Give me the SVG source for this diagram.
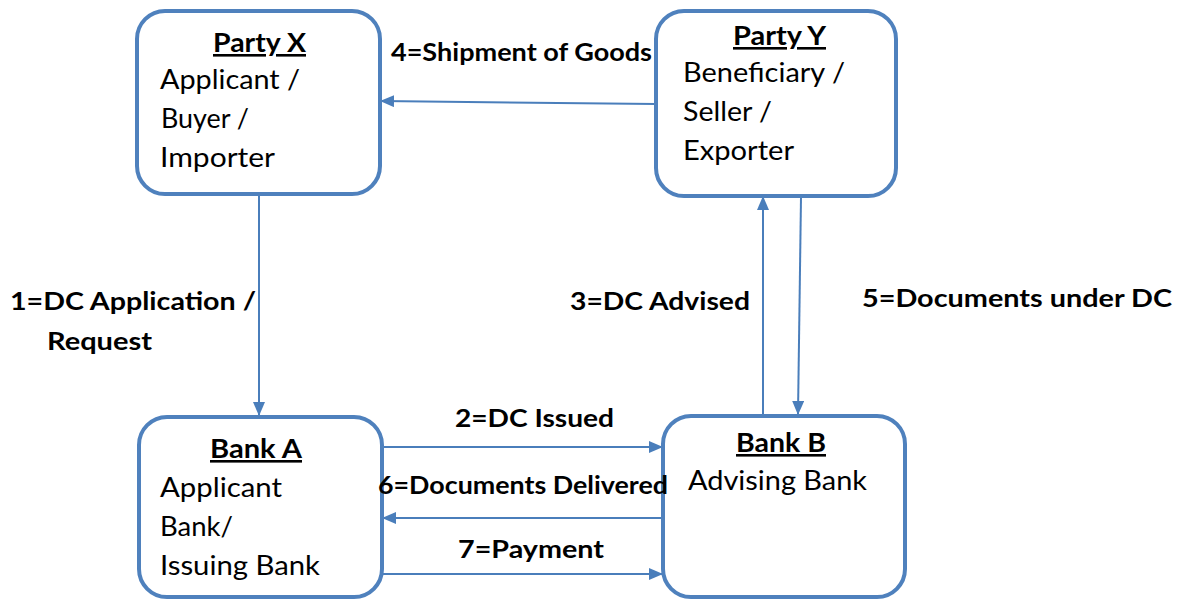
<svg xmlns="http://www.w3.org/2000/svg" width="1178" height="599" viewBox="0 0 1178 599">
<defs>
<style>
.box{fill:#fff;stroke:#4F81BD;stroke-width:4}
.t{font-family:Lato,"Liberation Sans",sans-serif;font-size:27px;fill:#000}
.h{font-family:Lato,"Liberation Sans",sans-serif;font-size:26px;font-weight:bold;text-decoration:underline;fill:#000}
.l{font-family:Lato,"Liberation Sans",sans-serif;font-size:24px;font-weight:bold;fill:#000}
.c{stroke:#4A7EBB;stroke-width:2;fill:none;marker-end:url(#ah)}
</style>
<marker id="ah" markerWidth="14" markerHeight="12" refX="13" refY="6" orient="auto" markerUnits="userSpaceOnUse">
<path d="M0,0 L14,6 L0,12 Z" fill="#4A7EBB"/>
</marker>
</defs>
<rect width="1178" height="599" fill="#fff"/>
<g id="connectors">
<path class="c" d="M656,104 L381,101"/>
<path class="c" d="M259,196 L259,415"/>
<path class="c" d="M763,415 L763,197"/>
<path class="c" d="M801,197 L798,414"/>
<path class="c" d="M383,447 L662,447"/>
<path class="c" d="M662,518 L383,518"/>
<path class="c" d="M383,574 L662,574"/>
</g>
<g id="partyX">
<rect class="box" x="137" y="11" width="243" height="183" rx="28"/>
<text class="h" x="213" y="52" textLength="93" lengthAdjust="spacingAndGlyphs">Party X</text>
<text class="t" x="160" y="89" textLength="140" lengthAdjust="spacingAndGlyphs">Applicant /</text>
<text class="t" x="161" y="128" textLength="88" lengthAdjust="spacingAndGlyphs">Buyer /</text>
<text class="t" x="160" y="167" textLength="115" lengthAdjust="spacingAndGlyphs">Importer</text>
</g>
<g id="partyY">
<rect class="box" x="656" y="11" width="240" height="185" rx="28"/>
<text class="h" x="733" y="45" textLength="93" lengthAdjust="spacingAndGlyphs">Party Y</text>
<text class="t" x="683" y="82" textLength="162" lengthAdjust="spacingAndGlyphs">Beneficiary /</text>
<text class="t" x="683" y="121" textLength="89" lengthAdjust="spacingAndGlyphs">Seller /</text>
<text class="t" x="683" y="160" textLength="111" lengthAdjust="spacingAndGlyphs">Exporter</text>
</g>
<g id="bankA">
<rect class="box" x="139" y="417" width="243" height="180" rx="28"/>
<text class="h" x="210" y="458" textLength="92" lengthAdjust="spacingAndGlyphs">Bank A</text>
<text class="t" x="160" y="497" textLength="122" lengthAdjust="spacingAndGlyphs">Applicant</text>
<text class="t" x="160" y="536" textLength="73" lengthAdjust="spacingAndGlyphs">Bank/</text>
<text class="t" x="160" y="575" textLength="160" lengthAdjust="spacingAndGlyphs">Issuing Bank</text>
</g>
<g id="bankB">
<rect class="box" x="663" y="416" width="242" height="181" rx="28"/>
<text class="h" x="736" y="452" textLength="90" lengthAdjust="spacingAndGlyphs">Bank B</text>
<text class="t" x="688" y="490" textLength="179" lengthAdjust="spacingAndGlyphs">Advising Bank</text>
</g>
<g id="labels">
<text class="l" x="391" y="61" textLength="261" lengthAdjust="spacingAndGlyphs">4=Shipment of Goods</text>
<text class="l" x="10" y="310" textLength="246" lengthAdjust="spacingAndGlyphs">1=DC Application /</text>
<text class="l" x="47" y="350" textLength="105" lengthAdjust="spacingAndGlyphs">Request</text>
<text class="l" x="570" y="310" textLength="180" lengthAdjust="spacingAndGlyphs">3=DC Advised</text>
<text class="l" x="862" y="307" textLength="310" lengthAdjust="spacingAndGlyphs">5=Documents under DC</text>
<text class="l" x="455" y="427" textLength="159" lengthAdjust="spacingAndGlyphs">2=DC Issued</text>
<text class="l" x="378" y="494" textLength="290" lengthAdjust="spacingAndGlyphs">6=Documents Delivered</text>
<text class="l" x="458" y="558" textLength="146" lengthAdjust="spacingAndGlyphs">7=Payment</text>
</g>
</svg>
